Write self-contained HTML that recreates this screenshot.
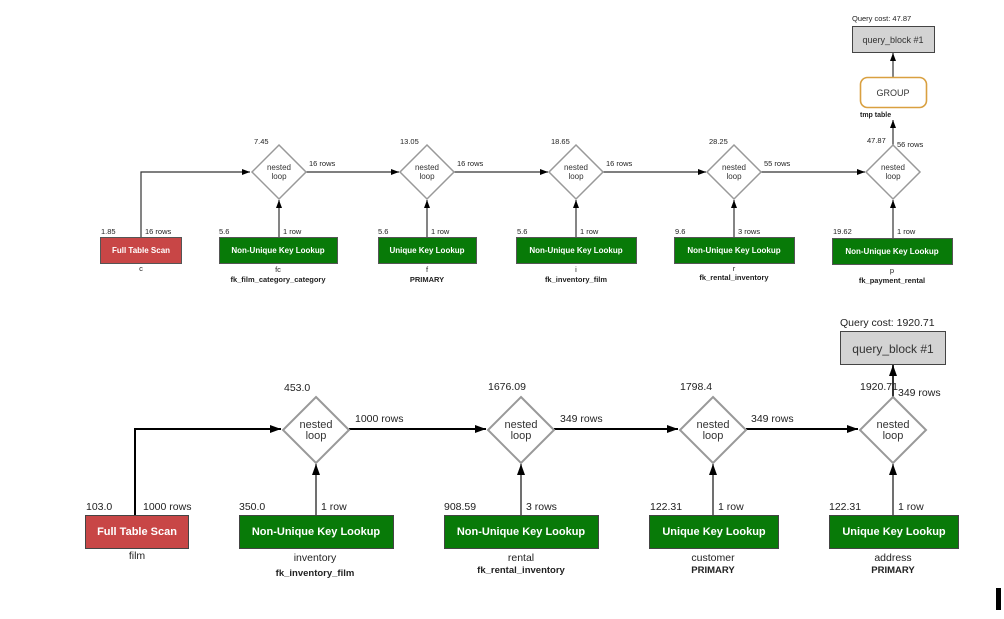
<!DOCTYPE html>
<html><head><meta charset="utf-8"><style>
html,body{margin:0;padding:0;background:#fff;}
svg{display:block;font-family:"Liberation Sans",sans-serif;}
</style></head><body>
<svg width="1004" height="619" viewBox="0 0 1004 619" xmlns="http://www.w3.org/2000/svg">
<defs>
<marker id="a" markerWidth="8" markerHeight="6" refX="8" refY="3" orient="auto" markerUnits="userSpaceOnUse"><path d="M0,0 L8,3 L0,6 z" fill="#000"/></marker>
<marker id="b" markerWidth="11" markerHeight="8" refX="11" refY="4" orient="auto" markerUnits="userSpaceOnUse"><path d="M0,0 L11,4 L0,8 z" fill="#000"/></marker>
</defs>
<rect width="1004" height="619" fill="#fff"/>

<!-- TOP DIAGRAM -->
<g stroke="#333" stroke-width="1.2" fill="none">
<polyline points="141,237 141,172 250,172" marker-end="url(#a)"/>
<line x1="306" y1="172" x2="399" y2="172" marker-end="url(#a)"/>
<line x1="454" y1="172" x2="548" y2="172" marker-end="url(#a)"/>
<line x1="603" y1="172" x2="706" y2="172" marker-end="url(#a)"/>
<line x1="761" y1="172" x2="865" y2="172" marker-end="url(#a)"/>
<line x1="279" y1="237" x2="279" y2="200" marker-end="url(#a)"/>
<line x1="427" y1="237" x2="427" y2="200" marker-end="url(#a)"/>
<line x1="576" y1="237" x2="576" y2="200" marker-end="url(#a)"/>
<line x1="734" y1="237" x2="734" y2="200" marker-end="url(#a)"/>
<line x1="893" y1="238" x2="893" y2="200" marker-end="url(#a)"/>
<line x1="893" y1="145" x2="893" y2="120" marker-end="url(#a)"/>
<line x1="893" y1="77" x2="893" y2="53" marker-end="url(#a)"/>
</g>
<g fill="#fff" stroke="#999" stroke-width="1.5">
<polygon points="279,145 306,172 279,199 252,172"/>
<polygon points="427,145 454,172 427,199 400,172"/>
<polygon points="576,145 603,172 576,199 549,172"/>
<polygon points="734,145 761,172 734,199 707,172"/>
<polygon points="893,145 920,172 893,199 866,172"/>
</g>
<g font-size="8" fill="#333" text-anchor="middle">
<text x="279" y="170">nested</text><text x="279" y="179">loop</text>
<text x="427" y="170">nested</text><text x="427" y="179">loop</text>
<text x="576" y="170">nested</text><text x="576" y="179">loop</text>
<text x="734" y="170">nested</text><text x="734" y="179">loop</text>
<text x="893" y="170">nested</text><text x="893" y="179">loop</text>
</g>
<g font-size="7.5" fill="#222">
<text x="254" y="144">7.45</text><text x="309" y="166">16 rows</text>
<text x="400" y="144">13.05</text><text x="457" y="166">16 rows</text>
<text x="551" y="144">18.65</text><text x="606" y="166">16 rows</text>
<text x="709" y="144">28.25</text><text x="764" y="166">55 rows</text>
<text x="867" y="143">47.87</text><text x="897" y="147">56 rows</text>
<text x="101" y="234">1.85</text><text x="145" y="234">16 rows</text>
<text x="219" y="234">5.6</text><text x="283" y="234">1 row</text>
<text x="378" y="234">5.6</text><text x="431" y="234">1 row</text>
<text x="517" y="234">5.6</text><text x="580" y="234">1 row</text>
<text x="675" y="234">9.6</text><text x="738" y="234">3 rows</text>
<text x="833" y="234">19.62</text><text x="897" y="234">1 row</text>
<text x="852" y="21">Query cost: 47.87</text>
</g>
<rect x="100.5" y="237.5" width="81" height="26" fill="#c84646" stroke="#555"/>
<rect x="219.5" y="237.5" width="118" height="26" fill="#087a08" stroke="#555"/>
<rect x="378.5" y="237.5" width="98" height="26" fill="#087a08" stroke="#555"/>
<rect x="516.5" y="237.5" width="120" height="26" fill="#087a08" stroke="#555"/>
<rect x="674.5" y="237.5" width="120" height="26" fill="#087a08" stroke="#555"/>
<rect x="832.5" y="238.5" width="120" height="26" fill="#087a08" stroke="#555"/>
<g font-size="8" font-weight="bold" fill="#fff" text-anchor="middle">
<text x="141" y="253">Full Table Scan</text>
<text x="278" y="253">Non-Unique Key Lookup</text>
<text x="427" y="253">Unique Key Lookup</text>
<text x="576" y="253">Non-Unique Key Lookup</text>
<text x="734" y="253">Non-Unique Key Lookup</text>
<text x="892" y="254">Non-Unique Key Lookup</text>
</g>
<g font-size="7.5" fill="#222" text-anchor="middle">
<text x="141" y="271">c</text>
<text x="278" y="272">fc</text><text x="278" y="282" font-weight="bold">fk_film_category_category</text>
<text x="427" y="272">f</text><text x="427" y="282" font-weight="bold">PRIMARY</text>
<text x="576" y="272">i</text><text x="576" y="282" font-weight="bold">fk_inventory_film</text>
<text x="734" y="271">r</text><text x="734" y="280" font-weight="bold">fk_rental_inventory</text>
<text x="892" y="273">p</text><text x="892" y="283" font-weight="bold">fk_payment_rental</text>
</g>
<rect x="860.5" y="77.5" width="66" height="30" rx="7" fill="#fff" stroke="#d9a040" stroke-width="1.6"/>
<text x="893" y="96" font-size="9" fill="#333" text-anchor="middle">GROUP</text>
<text x="860" y="117" font-size="7" font-weight="bold" fill="#222">tmp table</text>
<rect x="852.5" y="26.5" width="82" height="26" fill="#d3d3d3" stroke="#444"/>
<text x="893" y="43" font-size="9" fill="#333" text-anchor="middle">query_block #1</text>

<!-- BOTTOM DIAGRAM -->
<g stroke="#000" stroke-width="2" fill="none">
<polyline points="135,515 135,429 281,429" marker-end="url(#b)"/>
<line x1="349" y1="429" x2="486" y2="429" marker-end="url(#b)"/>
<line x1="554" y1="429" x2="678" y2="429" marker-end="url(#b)"/>
<line x1="746" y1="429" x2="858" y2="429" marker-end="url(#b)"/>
</g>
<g stroke="#333" stroke-width="1.4" fill="none">
<line x1="316" y1="515" x2="316" y2="464" marker-end="url(#b)"/>
<line x1="521" y1="515" x2="521" y2="464" marker-end="url(#b)"/>
<line x1="713" y1="515" x2="713" y2="464" marker-end="url(#b)"/>
<line x1="893" y1="515" x2="893" y2="464" marker-end="url(#b)"/>
<line x1="893" y1="397" x2="893" y2="365" stroke-width="2" marker-end="url(#b)"/>
</g>
<g fill="#fff" stroke="#999" stroke-width="2">
<polygon points="316,397 349,430 316,463 283,430"/>
<polygon points="521,397 554,430 521,463 488,430"/>
<polygon points="713,397 746,430 713,463 680,430"/>
<polygon points="893,397 926,430 893,463 860,430"/>
</g>
<g font-size="11" fill="#333" text-anchor="middle">
<text x="316" y="428">nested</text><text x="316" y="439">loop</text>
<text x="521" y="428">nested</text><text x="521" y="439">loop</text>
<text x="713" y="428">nested</text><text x="713" y="439">loop</text>
<text x="893" y="428">nested</text><text x="893" y="439">loop</text>
</g>
<g font-size="10.5" fill="#222">
<text x="284" y="391">453.0</text><text x="355" y="422">1000 rows</text>
<text x="488" y="390">1676.09</text><text x="560" y="422">349 rows</text>
<text x="680" y="390">1798.4</text><text x="751" y="422">349 rows</text>
<text x="860" y="390">1920.71</text><text x="898" y="396">349 rows</text>
<text x="86" y="510">103.0</text><text x="143" y="510">1000 rows</text>
<text x="239" y="510">350.0</text><text x="321" y="510">1 row</text>
<text x="444" y="510">908.59</text><text x="526" y="510">3 rows</text>
<text x="650" y="510">122.31</text><text x="718" y="510">1 row</text>
<text x="829" y="510">122.31</text><text x="898" y="510">1 row</text>
<text x="840" y="326">Query cost: 1920.71</text>
</g>
<rect x="85.5" y="515.5" width="103" height="33" fill="#c84646" stroke="#444"/>
<rect x="239.5" y="515.5" width="154" height="33" fill="#087a08" stroke="#444"/>
<rect x="444.5" y="515.5" width="154" height="33" fill="#087a08" stroke="#444"/>
<rect x="649.5" y="515.5" width="129" height="33" fill="#087a08" stroke="#444"/>
<rect x="829.5" y="515.5" width="129" height="33" fill="#087a08" stroke="#444"/>
<g font-size="11" font-weight="bold" fill="#fff" text-anchor="middle">
<text x="137" y="535">Full Table Scan</text>
<text x="316" y="535">Non-Unique Key Lookup</text>
<text x="521" y="535">Non-Unique Key Lookup</text>
<text x="714" y="535">Unique Key Lookup</text>
<text x="894" y="535">Unique Key Lookup</text>
</g>
<g font-size="10.5" fill="#222" text-anchor="middle">
<text x="137" y="559">film</text>
<text x="315" y="561">inventory</text><text x="315" y="576" font-size="9.5" font-weight="bold">fk_inventory_film</text>
<text x="521" y="561">rental</text><text x="521" y="573" font-size="9.5" font-weight="bold">fk_rental_inventory</text>
<text x="713" y="561">customer</text><text x="713" y="573" font-size="9.5" font-weight="bold">PRIMARY</text>
<text x="893" y="561">address</text><text x="893" y="573" font-size="9.5" font-weight="bold">PRIMARY</text>
</g>
<rect x="840.5" y="331.5" width="105" height="33" fill="#d3d3d3" stroke="#444"/>
<text x="893" y="353" font-size="12" fill="#333" text-anchor="middle">query_block #1</text>

<rect x="996" y="588" width="5" height="22" fill="#000"/>
</svg>
</body></html>
